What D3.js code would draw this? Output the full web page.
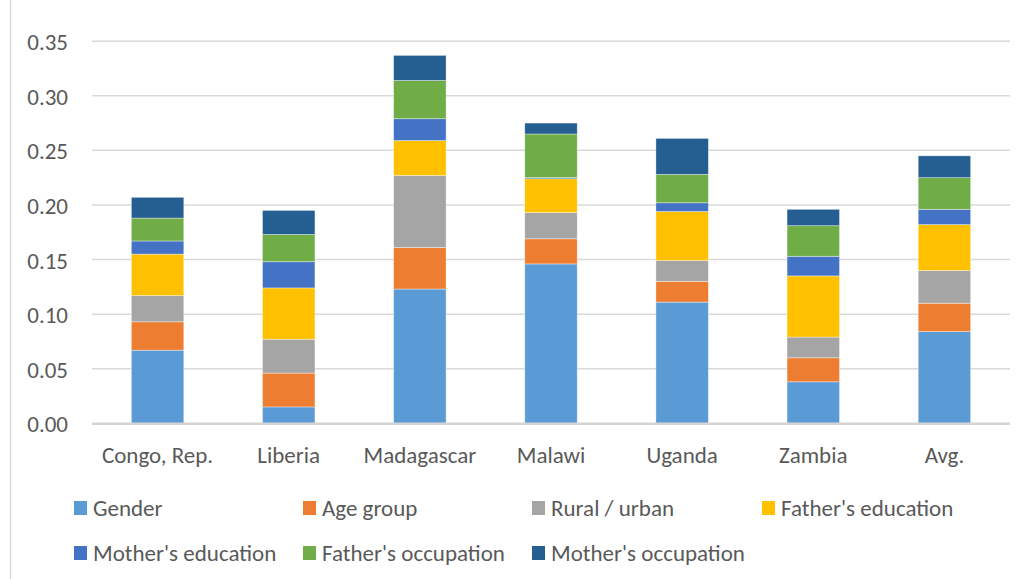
<!DOCTYPE html>
<html>
<head>
<meta charset="utf-8">
<script src="https://cdn.jsdelivr.net/npm/d3@7"></script>
<style>
  body { margin: 0; background: #fff; }
  svg { font-family: Carlito, Lato, "Open Sans", sans-serif; }
</style>
</head>
<body>
<svg id="chart" width="1024" height="579"></svg>
<script>
// categories and series
let countries = ["Congo, Rep.", "Liberia", "Madagascar", "Malawi", "Uganda", "Zambia", "Avg."];
let seriesNames = ["Gender", "Age group", "Rural / urban", "Father's education",
    "Mother's education", "Father's occupation", "Mother's occupation"];
let seriesColors = ["#5B9BD5", "#ED7D31", "#A5A5A5", "#FFC000", "#4472C4", "#70AD47", "#255E91"];

// one array per series, values in country order
let gender            = [0.067, 0.015, 0.123, 0.146, 0.111, 0.038, 0.084];
let ageGroup          = [0.026, 0.031, 0.038, 0.023, 0.019, 0.022, 0.026];
let ruralUrban        = [0.024, 0.031, 0.066, 0.024, 0.019, 0.019, 0.030];
let fatherEducation   = [0.038, 0.047, 0.032, 0.031, 0.045, 0.056, 0.042];
let motherEducation   = [0.012, 0.024, 0.020, 0.001, 0.008, 0.018, 0.014];
let fatherOccupation  = [0.021, 0.025, 0.035, 0.040, 0.026, 0.028, 0.029];
let motherOccupation  = [0.019, 0.022, 0.023, 0.010, 0.033, 0.015, 0.020];

let yTicks = [0, 0.05, 0.10, 0.15, 0.20, 0.25, 0.30, 0.35];

let seriesValues = [gender, ageGroup, ruralUrban, fatherEducation,
    motherEducation, fatherOccupation, motherOccupation];

// build table for d3.stack
let table = countries.map((c, i) => {
    let row = {country: c};
    seriesNames.forEach((s, j) => row[s] = seriesValues[j][i]);
    return row;
});

const svg = d3.select("#chart");
const textColor = "#595959";
const fontSize = 23;
const plot = {left: 92, right: 1010, top: 41.2, bottom: 423.3};

// left border of the chart frame
svg.append("line")
    .attr("x1", 10.5).attr("x2", 10.5)
    .attr("y1", 0).attr("y2", 579)
    .attr("stroke", "#d9d9d9").attr("stroke-width", 1.5);

let xScale = d3.scaleBand()
    .domain(countries)
    .range([plot.left, plot.right])
    .paddingInner(0.6)
    .paddingOuter(0.3);

let yScale = d3.scaleLinear()
    .domain([0, 0.35])
    .range([plot.bottom, plot.top]);

// gridlines
svg.append("g")
    .selectAll("line")
    .data(yTicks.slice(1))
    .enter().append("line")
    .attr("x1", plot.left).attr("x2", plot.right)
    .attr("y1", d => yScale(d)).attr("y2", d => yScale(d))
    .attr("stroke", "#d9d9d9").attr("stroke-width", 1.5);

// y axis labels
svg.append("g")
    .selectAll("text")
    .data(yTicks)
    .enter().append("text")
    .attr("x", 68)
    .attr("y", d => yScale(d) + 1)
    .attr("dy", "0.35em")
    .attr("text-anchor", "end")
    .attr("font-size", fontSize)
    .attr("fill", textColor)
    .text(d => d3.format(".2f")(d));

// stacked bars
let stack = d3.stack().keys(seriesNames)(table);

svg.append("g")
    .selectAll("g")
    .data(stack)
    .enter().append("g")
    .attr("fill", (d, i) => seriesColors[i])
    .selectAll("rect")
    .data(d => d)
    .enter().append("rect")
    .attr("x", d => xScale(d.data.country))
    .attr("width", xScale.bandwidth())
    .attr("y", d => yScale(d[1]))
    .attr("height", d => yScale(d[0]) - yScale(d[1]))
    .attr("stroke", "#ffffff")
    .attr("stroke-opacity", 0.5)
    .attr("stroke-width", 0.75);

// baseline
svg.append("line")
    .attr("x1", plot.left).attr("x2", plot.right)
    .attr("y1", plot.bottom + 0.5).attr("y2", plot.bottom + 0.5)
    .attr("stroke", "#d4d4d4").attr("stroke-width", 2.5);

// x axis labels
svg.append("g")
    .selectAll("text")
    .data(countries)
    .enter().append("text")
    .attr("x", d => xScale(d) + xScale.bandwidth() / 2)
    .attr("y", 454.5)
    .attr("dy", "0.35em")
    .attr("text-anchor", "middle")
    .attr("font-size", fontSize)
    .attr("fill", textColor)
    .text(d => d);

// legend, 4 columns
const legendX = [74, 303, 532, 762];
const legendY = [508, 553];
let legend = svg.append("g")
    .selectAll("g")
    .data(seriesNames)
    .enter().append("g")
    .attr("transform", (d, i) => "translate(" + legendX[i % 4] + "," + legendY[Math.floor(i / 4)] + ")");

legend.append("rect")
    .attr("x", 0).attr("y", -7)
    .attr("width", 13).attr("height", 14)
    .attr("fill", (d, i) => seriesColors[i]);

legend.append("text")
    .attr("x", 19)
    .attr("y", 0)
    .attr("dy", "0.35em")
    .attr("font-size", fontSize)
    .attr("fill", textColor)
    .text(d => d);
</script>
</body>
</html>
